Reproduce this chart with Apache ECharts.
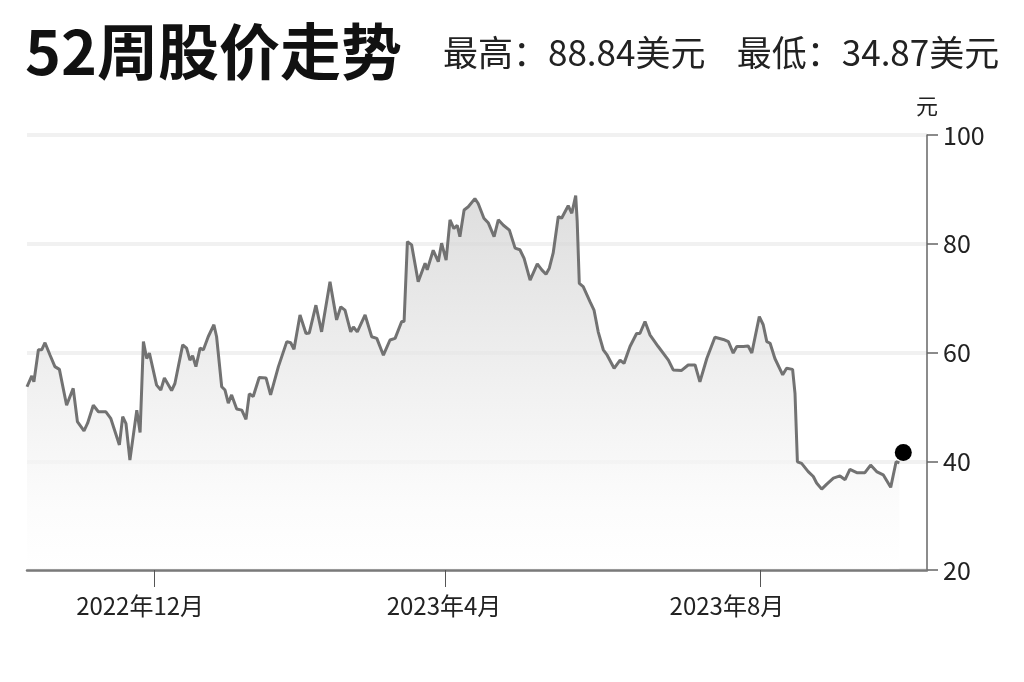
<!DOCTYPE html>
<html>
<head>
<meta charset="utf-8">
<title>52周股价走势</title>
<script src="https://cdn.jsdelivr.net/npm/echarts@6/dist/echarts.min.js"></script>
<style>
    html, body { margin: 0; padding: 0; background: #fff; }
    #price-chart { width: 1024px; height: 682px; }
</style>
</head>
<body>
<div id="price-chart"></div>
<script>
// 横轴: 交易日序号 (0 ~ 300), 纵轴: 股价(美元)
const days = [
    0, 1.6, 2.3, 3.8, 4.9, 6, 7.7, 9.3, 10.8, 13.2, 15.4, 16.8, 19, 20.2, 22.1, 23.8, 26.3, 27.9,
    30.8, 31.9, 33, 34.3, 36.6, 37.7, 38.8, 39.9, 40.8, 43.2, 44.6, 45.8, 48.2, 49.3, 51.9, 53.2,
    54.3, 55.2, 56.3, 57.7, 58.8, 60.4, 62.3, 63.2, 64.9, 66, 67.1, 68.2, 69.9, 71.6, 73, 74.1,
    75.4, 77.4, 79.7, 81.2, 83.8, 86.6, 87.9, 89, 91, 93, 94.1, 96.3, 98.2, 98.8, 101, 103.2,
    104.6, 106, 107.9, 108.8, 110.1, 112.7, 114.9, 116.6, 118.8, 121, 122.7, 124.9, 125.7, 126.8,
    128.2, 130.4, 132.7, 133.4, 135.4, 137.1, 138.2, 139.7, 141, 142.3, 143.4, 144.3, 145.7, 147.1,
    149.3, 150.4, 152.3, 153.8, 155.7, 157.1, 158.8, 160.8, 162.7, 164.3, 165.7, 167.7, 170.1,
    171.6, 173, 174.1, 175.4, 177.1, 178.2, 180.4, 181.6, 182.9, 183.4, 184.1, 185.4, 187.7, 189,
    190.4, 192.1, 193.4, 195.7, 197.7, 199, 201, 203.2, 204.3, 206, 207.7, 210.4, 213.8, 215.4,
    218.2, 220.4, 222.7, 224.3, 226.6, 229.3, 232.1, 233.8, 235.4, 236.6, 238.8, 240.4, 241.6,
    244.1, 245.4, 246.6, 247.7, 249.3, 251.9, 253.2, 255.2, 256, 256.8, 258.2, 260.4, 262.1,
    263.2, 264.9, 266.6, 268.8, 271, 272.7, 274.3, 276.6, 279.3, 281.2, 283.2, 285.4, 287.9,
    289.7, 290.8
];
const prices = [
    53.7, 55.7, 54.6, 60.5, 60.5, 61.8, 59.5, 57.4, 56.9, 50.3, 53.4, 47.3, 45.6, 47.0, 50.3, 49.1, 49.1, 47.9,
    43.0, 48.2, 46.9, 40.2, 49.4, 45.3, 62.0, 58.9, 59.9, 54.0, 53.1, 55.3, 53.0, 54.3, 61.4, 60.8,
    58.6, 59.4, 57.4, 60.8, 60.5, 62.9, 65.1, 62.9, 53.7, 53.1, 50.7, 52.2, 49.6, 49.4, 47.7, 52.4,
    51.9, 55.4, 55.3, 52.2, 57.4, 62.0, 61.8, 60.6, 66.9, 63.5, 63.6, 68.7, 63.8, 64.1, 73.0, 66.0,
    68.4, 67.8, 63.8, 64.7, 63.8, 66.9, 62.9, 62.6, 59.5, 62.3, 62.6, 65.7, 65.7, 80.4,
    79.8, 73.0, 76.4, 75.2, 78.8, 76.7, 80.1, 77.0, 84.4, 82.8, 83.4, 81.3, 86.2, 86.8,
    88.3, 87.4, 84.7, 83.8, 81.3, 84.4, 83.4, 82.5, 79.2, 78.9, 77.3, 73.3, 76.3,
    75.2, 74.4, 75.5, 78.3, 85.0, 84.7, 87.0, 85.6, 88.84, 84.1, 72.7, 72.1, 69.3, 67.8,
    63.8, 60.5, 59.5, 57.1, 58.6, 58.0, 61.1, 63.5, 63.5, 65.7, 63.2, 61.1, 58.6, 56.8,
    56.7, 57.7, 57.7, 54.6, 58.9, 62.8, 62.4, 62.0, 59.9, 61.1, 61.1, 61.2, 59.9,
    66.6, 65.1, 62.0, 61.7, 58.9, 55.9, 57.1, 56.9, 52.5, 39.9, 39.6, 38.1, 37.2,
    36.0, 34.87, 35.8, 36.9, 37.3, 36.6, 38.5, 37.9, 37.9, 39.3, 38.1, 37.5, 35.2,
    39.9, 39.7
];
// 最新价格点
const lastDay = [292.1];
const lastPrice = [41.6];

// 横轴刻度与标签
const tickDays = [42.3, 139.3, 244.3];
const labelDays = [37.7, 139, 233.3];
const monthLabels = ['2022年12月', '2023年4月', '2023年8月'];

const yTicks = [20, 40, 60, 80, 100];

renderPriceChart();

function renderPriceChart() {
    let priceChart = echarts.init(document.getElementById('price-chart'));
    const FONT = '"Noto Sans CJK SC", "Noto Sans", sans-serif';

    let lineData = [];
    for (let i = 0; i < days.length; i++) {
        lineData.push([days[i], prices[i]]);
    }
    let dotData = [[lastDay[0], lastPrice[0]]];

    let option = {
        backgroundColor: '#fff',
        animation: false,
        textStyle: { fontFamily: FONT },
        title: [{
            text: '52周股价走势',
            left: 20,
            top: 16,
            textStyle: { fontFamily: FONT, fontSize: 61, fontWeight: 'bold', color: '#111' }
        }, {
            text: '最高：88.84美元    最低：34.87美元',
            left: 438,
            top: 30,
            textStyle: { fontFamily: FONT, fontSize: 35, fontWeight: 'normal', color: '#222' }
        }],
        grid: {
            left: 27,
            right: 97,
            top: 135,
            bottom: 112,
            containLabel: false,
            outerBoundsMode: 'none'
        },
        xAxis: {
            type: 'value',
            min: 0,
            max: 300,
            z: 5,
            axisLine: { show: true, onZero: false, lineStyle: { color: '#7a7a7a', width: 2.5 } },
            axisTick: {
                show: true,
                length: 17,
                customValues: tickDays,
                lineStyle: { color: '#555', width: 1 }
            },
            axisLabel: {
                customValues: labelDays,
                margin: 24,
                fontSize: 24,
                color: '#222',
                fontFamily: FONT,
                formatter: function (val) {
                    let idx = 0;
                    for (let i = 1; i < labelDays.length; i++) {
                        if (Math.abs(labelDays[i] - val) < Math.abs(labelDays[idx] - val)) idx = i;
                    }
                    return monthLabels[idx];
                }
            },
            splitLine: { show: false }
        },
        yAxis: {
            type: 'value',
            position: 'right',
            min: yTicks[0],
            max: yTicks[yTicks.length - 1],
            interval: 20,
            name: '元',
            nameLocation: 'end',
            nameGap: 18,
            nameTextStyle: { fontSize: 22, color: '#222', fontFamily: FONT },
            axisLine: { show: true, onZero: false, lineStyle: { color: '#666', width: 1.5 } },
            axisTick: { show: true, inside: false, length: 11, lineStyle: { color: '#666', width: 1.5 } },
            axisLabel: { margin: 16, fontSize: 25, color: '#222', fontFamily: FONT },
            splitLine: { show: true, lineStyle: { color: '#f1f1f1', width: 4 } }
        },
        series: [{
            name: '股价',
            type: 'line',
            data: lineData,
            showSymbol: false,
            lineStyle: { color: '#727272', width: 3 },
            areaStyle: {
                color: new echarts.graphic.LinearGradient(0, 0, 0, 1, [
                    { offset: 0, color: '#d0d0d0' },
                    { offset: 0.5, color: '#eaeaea' },
                    { offset: 0.82, color: '#fafafa' },
                    { offset: 1, color: '#ffffff' }
                ])
            },
            z: 2
        }, {
            name: '最新',
            type: 'scatter',
            data: dotData,
            symbolSize: 17,
            itemStyle: { color: '#000', opacity: 1 },
            z: 3
        }]
    };

    priceChart.setOption(option);
}
</script>
</body>
</html>
